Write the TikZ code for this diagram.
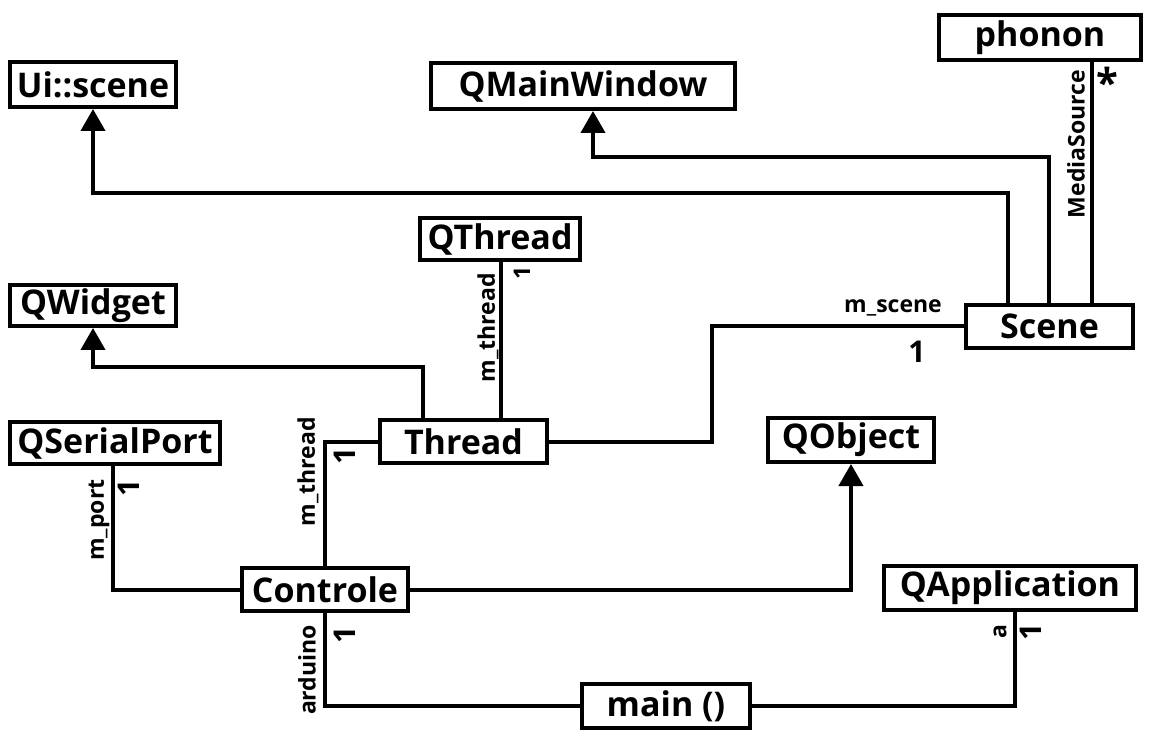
\documentclass[tikz,border=0pt]{standalone}
\usepackage{fontspec}
\setmainfont{Open Sans}
\usetikzlibrary{arrows.meta}
\begin{document}
\begin{tikzpicture}[x=1pt,y=-1pt,
  cls/.style={draw, line width=4pt, inner sep=0pt, fill=white,
    font=\fontsize{34}{40}\selectfont\bfseries},
  conn/.style={line width=4pt},
  inh/.style={conn, -{Triangle[length=22pt,width=24pt]}},
  lbl/.style={font=\fontsize{23}{26}\selectfont\bfseries, inner sep=0pt},
  mult/.style={font=\fontsize{30}{33}\selectfont\bfseries, inner sep=0pt},
  smult/.style={font=\fontsize{23}{26}\selectfont\bfseries, inner sep=0pt},
  star/.style={font=\fontsize{40}{44}\selectfont\bfseries, inner sep=0pt},
  ]
\useasboundingbox[fill=white] (0,0) rectangle (1152,743);

% classes
\node[cls, minimum width=166pt, minimum height=45pt] (uis) at (93,84.5) {Ui::scene};
\node[cls, minimum width=304pt, minimum height=46pt] (qmw) at (583,86) {QMainWindow};
\node[cls, minimum width=202pt, minimum height=45pt] (phonon) at (1040,37.5) {phonon};
\node[cls, minimum width=160pt, minimum height=42pt] (qthread) at (500,239) {QThread};
\node[cls, minimum width=166pt, minimum height=41pt] (qwidget) at (93,305.5) {QWidget};
\node[cls, minimum width=167pt, minimum height=43pt] (scene) at (1049.5,326.5) {Scene};
\node[cls, minimum width=210pt, minimum height=42pt] (qserial) at (115,443) {QSerialPort};
\node[cls, minimum width=167pt, minimum height=43pt] (thread) at (463.5,441.5) {Thread};
\node[cls, minimum width=166pt, minimum height=44pt] (qobject) at (851,440) {QObject};
\node[cls, minimum width=166pt, minimum height=43pt] (controle) at (325,589.5) {Controle};
\node[cls, minimum width=252pt, minimum height=44pt] (qapp) at (1010,588) {QApplication};
\node[cls, minimum width=168pt, minimum height=44pt] (main) at (666,706) {main ()};

% bend points
\coordinate (j1) at (1008,193);
\coordinate (j2) at (1049,157);
\coordinate (j3) at (1092,200);
\coordinate (j4) at (712,328);
\coordinate (j5) at (423,367);
\coordinate (j6) at (501,330);
\coordinate (j8) at (113,590);
\coordinate (j11) at (1015,706);
\coordinate (a2) at (593,111);

% inheritance
\draw[inh] (scene.north -| j1) -- (j1) -| (uis.south);
\draw[inh] (scene.north -| j2) -- (j2) -| (a2);
\draw[inh] (thread.north -| j5) -- (j5) -| (qwidget.south);
\draw[inh] (controle.east) -| (qobject.south);

% associations
\draw[conn] (scene.north -| j3) -- (phonon.south -| j3);
\draw[conn] (scene.west) -- (scene.west -| j4) |- (thread.east);
\draw[conn] (thread.north -| j6) -- (qthread.south -| j6);
\draw[conn] (controle.north) |- (thread.west);
\draw[conn] (controle.west) -| (qserial.south -| j8);
\draw[conn] (controle.south) |- (main.west);
\draw[conn] (main.east) -| (qapp.south -| j11);

% labels
\node[lbl, rotate=90] (lms) at (1076,144) {MediaSource};
\node[star] (sms) at (1107,82) {*};
\node[lbl] (lsc) at (893,308) {m\_scene};
\node[mult] (ssc) at (917,352) {1};
\node[lbl, rotate=90] (lth1) at (488,328) {m\_thread};
\node[smult, rotate=90] (sth1) at (522,273) {1};
\node[lbl, rotate=90] (lth2) at (308,472) {m\_thread};
\node[mult, rotate=90] (sth2) at (345,456) {1};
\node[lbl, rotate=90] (lpo) at (99,520) {m\_port};
\node[mult, rotate=90] (spo) at (129,488) {1};
\node[lbl, rotate=90] (lar) at (307,670) {arduino};
\node[mult, rotate=90] (sar) at (345,635) {1};
\node[lbl, rotate=90] (la) at (1000,632) {a};
\node[mult, rotate=90] (sa) at (1031,632) {1};
\end{tikzpicture}
\end{document}
